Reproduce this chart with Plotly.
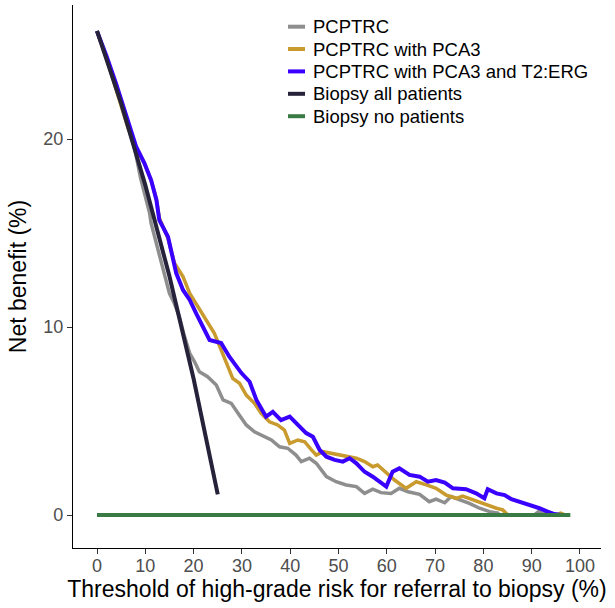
import plotly.graph_objects as go

# ---- Data ----
series_names = ["PCPTRC", "PCPTRC with PCA3", "PCPTRC with PCA3 and T2:ERG",
                "Biopsy all patients", "Biopsy no patients"]

gray_t = [0, 2, 4, 6, 7, 7.8, 9, 10.2, 10.9, 11.2, 12.3, 13.3, 14.3, 15.0, 16.0, 17.0, 18.0,
          19.2, 20.2, 21.2, 22.9, 24.7, 26.1, 27.8, 29.2, 30.9, 32.6, 34.7, 36.1, 37.8, 39.5,
          41.2, 42.3, 44.0, 45.4, 47.5, 49.5, 51.6, 53.7, 55.4, 57.1, 58.8, 60.9, 62.6, 64.4,
          66.8, 68.8, 70.2, 72.0, 73.3, 75.1, 77.1, 79.2, 81.3, 83.0, 83.3, 90.5, 91.5, 92.5, 93.5]
gray_v = [25.74, 24.3, 22.7, 21.0, 20.1, 19.5, 17.95, 16.76, 16.05, 15.52, 14.45, 13.39, 12.5,
          11.79, 11.26, 10.6, 9.6, 8.6, 8.15, 7.62, 7.36, 6.91, 6.12, 5.94, 5.41, 4.79, 4.43,
          4.16, 3.99, 3.63, 3.55, 3.19, 2.84, 3.02, 2.75, 2.04, 1.77, 1.6, 1.51, 1.15, 1.37,
          1.19, 1.15, 1.42, 1.24, 1.1, 0.71, 0.84, 0.65, 0.98, 0.8, 0.62, 0.36, 0.18, 0.1, 0.0,
          0.0, 0.2, 0.15, 0.0]

gold_t = [0, 2, 4, 5, 6.4, 8, 9.8, 11.2, 12.3, 12.9, 14.7, 16.05, 17.8, 19.2, 20.9, 22.6, 24.3,
          25.7, 27.1, 28.1, 29.5, 30.9, 32.6, 34.0, 35.7, 37.4, 38.8, 39.9, 41.6, 43.0, 44.4,
          45.4, 46.8, 48.5, 50.2, 51.9, 53.7, 55.4, 57.1, 58.1, 59.9, 61.6, 64.0, 66.1, 68.2,
          70.2, 72.3, 74.4, 75.7, 77.8, 80.6, 82.7, 84.0, 85.05, 95.0, 96.0, 97.0]
gold_v = [25.74, 24.3, 22.6, 21.8, 20.6, 19.6, 18.72, 17.8, 16.8, 15.8, 14.7, 13.39, 12.68,
          11.79, 11.08, 10.37, 9.66, 8.78, 7.89, 7.27, 7.01, 6.38, 5.94, 5.41, 4.96, 4.79, 4.52,
          3.81, 3.99, 3.9, 3.46, 3.19, 3.37, 3.28, 3.19, 3.1, 3.02, 2.84, 2.57, 2.66, 2.22, 1.86,
          1.42, 1.77, 1.6, 1.42, 1.06, 0.89, 1.01, 0.8, 0.53, 0.36, 0.27, 0.0, 0.0, 0.1, 0.0]

blue_t = [0, 2, 4, 6, 8.1, 9.8, 11.2, 12.3, 12.9, 14.7, 15.7, 16.4, 17.8, 19.2, 20.5, 21.9,
          23.3, 25.7, 27.4, 29.9, 31.6, 33.0, 35.0, 36.4, 38.1, 39.9, 41.6, 43.3, 44.7, 46.1,
          47.5, 49.2, 50.9, 52.3, 53.7, 55.4, 57.1, 59.9, 61.2, 62.6, 64.7, 66.8, 68.5, 70.2,
          72.0, 73.7, 76.4, 78.5, 80.2, 80.9, 82.7, 84.4, 85.8, 87.5, 89.5, 91.6, 93.3, 94.7, 96.1]
blue_v = [25.74, 24.4, 22.9, 21.25, 19.6, 18.72, 17.82, 16.76, 15.69, 14.8, 13.74, 12.87,
          11.97, 11.44, 10.74, 10.02, 9.31, 9.15, 8.42, 7.55, 7.09, 6.12, 5.23, 5.49, 5.05, 5.23,
          4.79, 4.36, 4.16, 3.46, 3.1, 2.93, 2.84, 3.02, 2.75, 2.3, 2.04, 1.51, 2.3, 2.48, 2.13,
          2.04, 1.77, 1.86, 1.72, 1.42, 1.37, 1.15, 0.89, 1.37, 1.15, 1.06, 0.84, 0.71, 0.53,
          0.36, 0.18, 0.05, 0.0]

all_t = [0, 5, 10, 15, 20, 25]
all_v = [25.75, 21.9, 17.55, 12.7, 7.25, 1.1]

none_t = [0, 98]
none_v = [0, 0]

x_ticks = [0, 10, 20, 30, 40, 50, 60, 70, 80, 90, 100]
y_ticks = [0, 10, 20]

# ---- Styles ----
colors = ["#8E8E8E", "#C99A2E", "#3A00FF", "#25223A", "#3A7B45"]
widths = [3.5, 3.5, 4, 4, 4]
FONT = "Liberation Sans, Arial, sans-serif"

W, H = 615, 608
ML, MR, MT, MB = 73, 14, 5, 60
PW, PH = W - ML - MR, H - MT - MB


def px_to_paper_x(px):
    return (px - ML) / PW


def px_to_paper_y(py):
    return 1 - (py - MT) / PH


fig = go.Figure()
xs = [gray_t, gold_t, blue_t, all_t, none_t]
ys = [gray_v, gold_v, blue_v, all_v, none_v]
for name, x, y, c, w in zip(series_names, xs, ys, colors, widths):
    fig.add_trace(go.Scatter(x=x, y=y, mode="lines", name=name, showlegend=False,
                             line=dict(color=c, width=w)))

# ---- Legend (drawn as key lines + real text labels) ----
legend_rows_py = [26.7, 49.0, 71.4, 93.8, 116.2]
key_x0, key_x1, text_x = 288, 305, 311
shapes = []
annotations = []
for name, c, w, py in zip(series_names, colors, widths, legend_rows_py):
    yp = px_to_paper_y(py)
    shapes.append(dict(type="line", xref="paper", yref="paper",
                       x0=px_to_paper_x(key_x0), x1=px_to_paper_x(key_x1), y0=yp, y1=yp,
                       line=dict(color=c, width=4)))
    annotations.append(dict(xref="paper", yref="paper", x=px_to_paper_x(text_x), y=yp,
                            xanchor="left", yanchor="middle", showarrow=False, text=name,
                            font=dict(family=FONT, size=18.5, color="black")))

axis_common = dict(showgrid=False, zeroline=False, showline=True, linecolor="black",
                   linewidth=1.3, ticks="outside", ticklen=5, tickwidth=1.2,
                   tickcolor="#333333",
                   tickfont=dict(family=FONT, size=18, color="#4D4D4D"))

fig.update_xaxes(range=[-4.97, 104.35], tickvals=x_ticks, ticklabelstandoff=-4,
                 title=dict(text="Threshold of high-grade risk for referral to biopsy (%)",
                            font=dict(family=FONT, size=23, color="black"), standoff=3),
                 **axis_common)
fig.update_yaxes(range=[-1.755, 27.13], tickvals=y_ticks,
                 title=dict(text="Net benefit (%)",
                            font=dict(family=FONT, size=23, color="black"), standoff=10),
                 **axis_common)

fig.update_layout(
    width=W, height=H,
    margin=dict(l=ML, r=MR, t=MT, b=MB, autoexpand=False),
    plot_bgcolor="white", paper_bgcolor="white",
    font=dict(family=FONT),
    showlegend=False,
    shapes=shapes,
    annotations=annotations,
)

fig.write_html("out.html", config={"displayModeBar": False},
               post_script="document.body.style.margin='0';document.body.style.padding='0';")
